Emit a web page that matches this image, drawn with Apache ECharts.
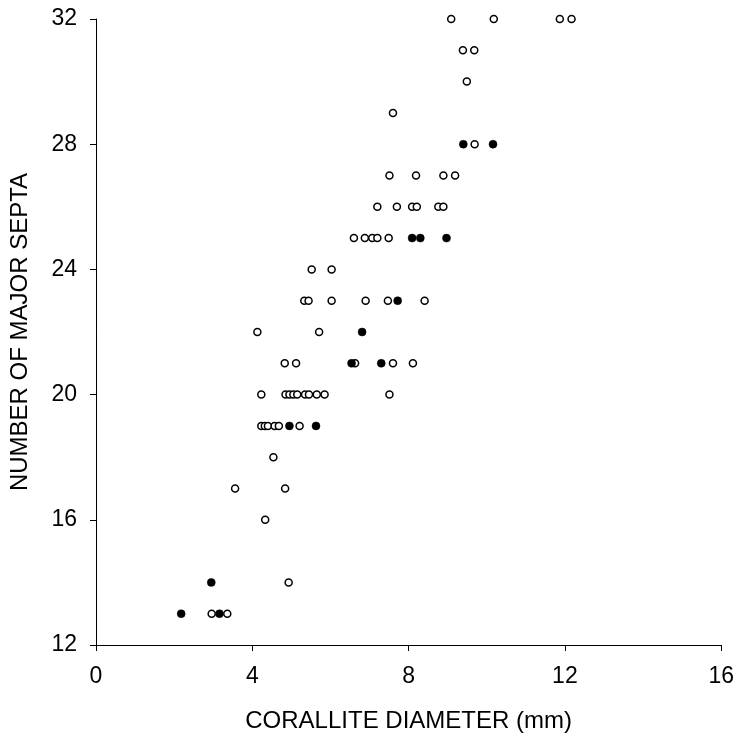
<!DOCTYPE html>
<html>
<head>
<meta charset="utf-8">
<script src="https://cdn.jsdelivr.net/npm/echarts@6/dist/echarts.min.js"></script>
<style>
    html, body { margin: 0; padding: 0; background: #fff; }
    #chart { width: 737px; height: 740px; }
</style>
</head>
<body>
<div id="chart"></div>
<script>
// open circles: [diameter mm, septa]
const openPoints = [
    [2.96, 13], [3.36, 13],
    [4.93, 14],
    [4.33, 16],
    [3.56, 17], [4.84, 17],
    [4.54, 18],
    [4.23, 19], [4.32, 19], [4.4, 19], [4.57, 19], [4.68, 19], [5.21, 19],
    [4.23, 20], [4.85, 20], [4.95, 20], [5.05, 20], [5.15, 20], [5.35, 20], [5.45, 20], [5.65, 20], [5.85, 20], [7.51, 20],
    [4.83, 21], [5.12, 21], [6.63, 21], [7.6, 21], [8.11, 21],
    [4.13, 22], [5.71, 22],
    [5.33, 23], [5.44, 23], [6.03, 23], [6.9, 23], [7.47, 23], [8.41, 23],
    [5.52, 24], [6.03, 24],
    [6.6, 25], [6.88, 25], [7.07, 25], [7.2, 25], [7.49, 25],
    [7.2, 26], [7.7, 26], [8.09, 26], [8.21, 26], [8.76, 26], [8.89, 26],
    [7.51, 27], [8.19, 27], [8.89, 27], [9.19, 27],
    [9.69, 28],
    [7.6, 29],
    [9.49, 30],
    [9.39, 31], [9.68, 31],
    [9.09, 32], [10.18, 32], [11.87, 32], [12.17, 32]
]
// filled circles
const filledPoints = [
    [2.18, 13], [3.16, 13],
    [2.95, 14],
    [4.95, 19], [5.63, 19],
    [6.54, 21], [7.3, 21],
    [6.81, 22],
    [7.72, 23],
    [8.09, 25], [8.3, 25], [8.97, 25],
    [9.4, 28], [10.16, 28]
]
const xTicks = [0, 4, 8, 12, 16]
const yTicks = [12, 16, 20, 24, 28, 32]

const chart = echarts.init(document.getElementById('chart'))

const labelText = { color: '#000', fontSize: 23, fontFamily: 'Liberation Sans, Arial, sans-serif' }
const nameText = { color: '#000', fontSize: 24, fontFamily: 'Liberation Sans, Arial, sans-serif' }

const option = {
    animation: false,
    grid: { left: 95, right: 12, top: 19, bottom: 95 },
    xAxis: {
        type: 'value',
        min: xTicks[0],
        max: xTicks[xTicks.length - 1],
        interval: 4,
        name: 'CORALLITE DIAMETER (mm)',
        nameLocation: 'middle',
        nameGap: 64,
        nameTextStyle: nameText,
        axisLine: { lineStyle: { color: '#000', width: 1 } },
        axisTick: { length: 6, lineStyle: { color: '#000' } },
        axisLabel: Object.assign({ margin: 20 }, labelText),
        splitLine: { show: false }
    },
    yAxis: {
        type: 'value',
        min: yTicks[0],
        max: yTicks[yTicks.length - 1],
        interval: 4,
        name: 'NUMBER OF MAJOR SEPTA',
        nameLocation: 'middle',
        nameGap: 64,
        nameTextStyle: nameText,
        axisLine: { show: true, lineStyle: { color: '#000', width: 1 } },
        axisTick: { show: true, length: 6, lineStyle: { color: '#000' } },
        axisLabel: Object.assign({ margin: 19 }, labelText),
        splitLine: { show: false }
    },
    series: [
        {
            name: 'open',
            type: 'scatter',
            symbol: 'circle',
            symbolSize: 7,
            itemStyle: { color: '#fff', borderColor: '#000', borderWidth: 1.5, opacity: 1 },
            data: openPoints
        },
        {
            name: 'filled',
            type: 'scatter',
            symbol: 'circle',
            symbolSize: 8,
            itemStyle: { color: '#000', borderColor: '#000', borderWidth: 0.5, opacity: 1 },
            data: filledPoints
        }
    ]
}

chart.setOption(option)
</script>
</body>
</html>
